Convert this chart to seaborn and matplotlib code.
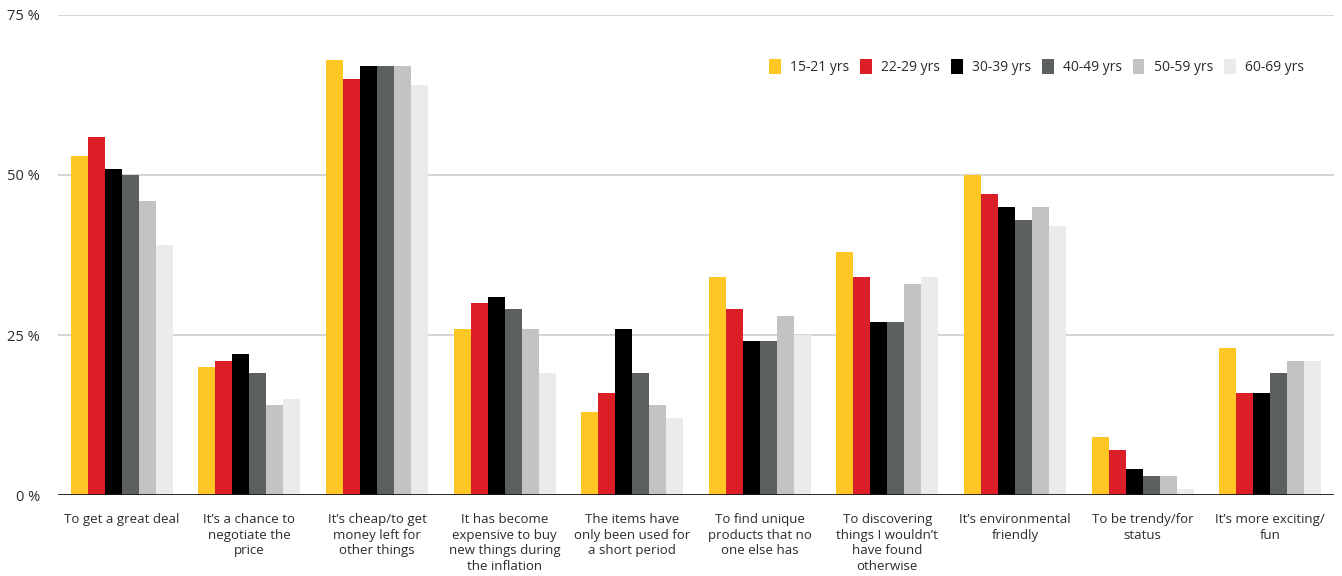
import matplotlib
matplotlib.use("Agg")
import matplotlib.pyplot as plt
import seaborn as sns
import pandas as pd
from matplotlib.patches import Patch

# Reasons for buying second-hand, share of respondents per age group (%)
reasons = [
    "To get a great deal",
    "It\u2019s a chance to\nnegotiate the\nprice",
    "It\u2019s cheap/to get\nmoney left for\nother things",
    "It has become\nexpensive to buy\nnew things during\nthe inflation",
    "The items have\nonly been used for\na short period",
    "To find unique\nproducts that no\none else has",
    "To discovering\nthings I wouldn\u2019t\nhave found\notherwise",
    "It\u2019s environmental\nfriendly",
    "To be trendy/for\nstatus",
    "It\u2019s more exciting/\nfun",
]
age_groups = ["15-21 yrs", "22-29 yrs", "30-39 yrs", "40-49 yrs", "50-59 yrs", "60-69 yrs"]

age_15_21 = [53, 20, 68, 26, 13, 34, 38, 50, 9, 23]
age_22_29 = [56, 21, 65, 30, 16, 29, 34, 47, 7, 16]
age_30_39 = [51, 22, 67, 31, 26, 24, 27, 45, 4, 16]
age_40_49 = [50, 19, 67, 29, 19, 24, 27, 43, 3, 19]
age_50_59 = [46, 14, 67, 26, 14, 28, 33, 45, 3, 21]
age_60_69 = [39, 15, 64, 19, 12, 25, 34, 42, 1, 21]

y_ticks = [0, 25, 50, 75]
y_tick_labels = ["0 %", "25 %", "50 %", "75 %"]

colors = ["#FFC726", "#DC1F26", "#000000", "#5D6061", "#C2C3C2", "#EBEBEB"]

series = [age_15_21, age_22_29, age_30_39, age_40_49, age_50_59, age_60_69]
rows = []
for grp, vals in zip(age_groups, series):
    for reason, v in zip(reasons, vals):
        rows.append({"reason": reason, "age": grp, "share": v})
df = pd.DataFrame(rows)

sns.set_theme(style="white")
plt.rcParams["font.family"] = ["Open Sans", "DejaVu Sans"]
text_color = "#2b2b2b"

fig = plt.figure(figsize=(13.42, 5.76), dpi=100)
ax = fig.add_axes([0.0432, 0.1406, 0.9508, 0.8334])

sns.barplot(
    data=df, x="reason", y="share", hue="age",
    order=reasons, hue_order=age_groups, palette=colors,
    width=0.8, gap=0, linewidth=0, saturation=1, errorbar=None,
    legend=False, ax=ax,
)

ax.set_xlim(-0.5, len(reasons) - 0.5)
ax.set_ylim(0, 75)
ax.set_yticks(y_ticks)
ax.set_yticklabels(y_tick_labels)
for y in y_ticks[1:]:
    ax.axhline(y, color="#c9c9c9", linewidth=1.1, zorder=0)
ax.axhline(0, color="#1a1a1a", linewidth=1.3, zorder=3)

for s in ax.spines.values():
    s.set_visible(False)
ax.set_xlabel("")
ax.set_ylabel("")
ax.tick_params(axis="y", length=0, pad=13, labelsize=10.5, labelcolor=text_color)
ax.tick_params(axis="x", length=0, pad=13, labelsize=9.5, labelcolor=text_color)
for lbl in ax.get_xticklabels():
    lbl.set_linespacing(1.25)
    lbl.set_verticalalignment("top")
    lbl.set_horizontalalignment("center")

handles = [Patch(facecolor=c, edgecolor="none") for c in colors]
ax.legend(
    handles, age_groups, loc="center", bbox_to_anchor=(0.767, 0.892),
    ncol=6, frameon=False, fontsize=10, labelcolor=text_color,
    handlelength=0.85, handleheight=1.3, handletextpad=0.7, columnspacing=0.75,
)

fig.savefig("out.png", dpi=100, facecolor="white")
